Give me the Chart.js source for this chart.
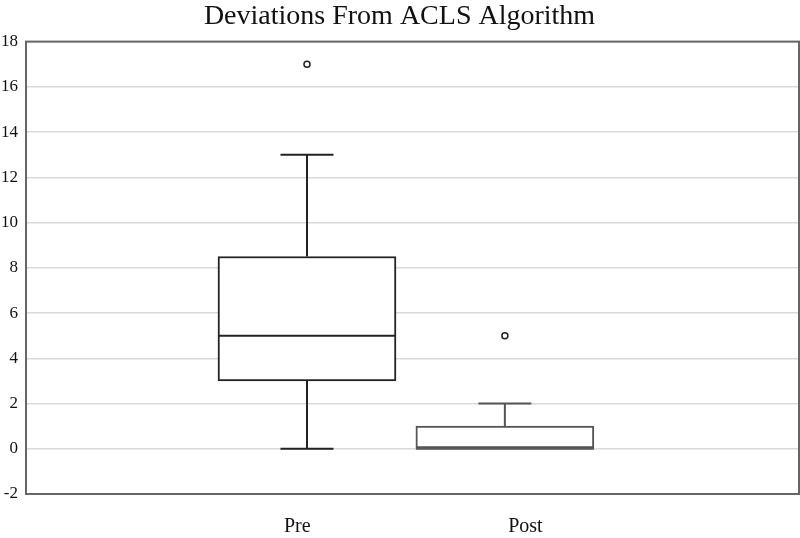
<!DOCTYPE html>
<html><head><meta charset="utf-8">
<script src="https://cdn.jsdelivr.net/npm/chart.js@4.4.1/dist/chart.umd.min.js"></script>
<style>html,body{margin:0;padding:0;background:#fff}#wrap{width:800px;height:538px}</style>
</head><body><div id="wrap"><canvas id="c" width="800" height="538"></canvas></div>
<script>
const categories = ['Pre', 'Post'];
const whiskerLow = [0, 0];
const q1 = [3, 0];
const median = [5, 0];
const q3 = [8.5, 1];
const whiskerHigh = [13, 2];
const outliers = [[17], [5]];
const yTicks = [-2, 0, 2, 4, 6, 8, 10, 12, 14, 16, 18];

// layout / style (not data)
const boxCenter = [36.35, 61.95];
const labelCenter = [35.1, 64.6];
const boxColor = ['#222222', '#555555'];
const boxPx = 178, capPx = 53;

const SERIF = '"Liberation Serif", "Times New Roman", serif';

const boxPlugin = {
  id: 'boxExtras',
  afterDatasetsDraw(chart) {
    const {ctx, scales: {x, y}, chartArea: a} = chart;
    ctx.save();
    ctx.lineWidth = 2;
    categories.forEach((c, i) => {
      ctx.strokeStyle = boxColor[i];
      const cx = x.getPixelForValue(boxCenter[i]);
      const seg = (x1, y1, x2, y2) => { ctx.beginPath(); ctx.moveTo(x1, y1); ctx.lineTo(x2, y2); ctx.stroke(); };
      seg(cx - boxPx / 2, y.getPixelForValue(median[i]), cx + boxPx / 2, y.getPixelForValue(median[i]));
      if (whiskerHigh[i] > q3[i]) {
        seg(cx, y.getPixelForValue(q3[i]), cx, y.getPixelForValue(whiskerHigh[i]));
        seg(cx - capPx / 2, y.getPixelForValue(whiskerHigh[i]), cx + capPx / 2, y.getPixelForValue(whiskerHigh[i]));
      }
      if (whiskerLow[i] < q1[i]) {
        seg(cx, y.getPixelForValue(q1[i]), cx, y.getPixelForValue(whiskerLow[i]));
        seg(cx - capPx / 2, y.getPixelForValue(whiskerLow[i]), cx + capPx / 2, y.getPixelForValue(whiskerLow[i]));
      }
    });
    ctx.strokeStyle = '#666';
    ctx.lineWidth = 2;
    ctx.strokeRect(a.left, a.top, a.right - a.left, a.bottom - a.top);
    ctx.restore();
  }
};

const outlierPts = [];
outliers.forEach((arr, i) => arr.forEach(v => outlierPts.push({x: boxCenter[i], y: v})));

new Chart(document.getElementById('c'), {
  type: 'bar',
  data: {
    datasets: [{
      type: 'bar',
      data: categories.map((c, i) => ({x: boxCenter[i], y: [q1[i], q3[i]]})),
      backgroundColor: '#ffffff',
      borderColor: boxColor,
      borderWidth: 2,
      borderSkipped: false,
      barThickness: boxPx
    }, {
      type: 'scatter',
      data: outlierPts,
      pointRadius: 3,
      pointBorderWidth: 1.5,
      pointBackgroundColor: '#fff',
      pointBorderColor: '#222'
    }]
  },
  options: {
    responsive: false,
    animation: false,
    devicePixelRatio: 1,
    layout: {autoPadding: false, padding: {left: 0, right: 1, top: 0, bottom: 0}},
    plugins: {
      legend: {display: false},
      tooltip: {enabled: false},
      title: {
        display: true,
        text: 'Deviations From ACLS Algorithm',
        color: '#111',
        font: {family: SERIF, size: 28, weight: 'normal'},
        padding: {top: 0, bottom: 8}
      }
    },
    scales: {
      x: {
        type: 'linear',
        offset: false,
        min: 0, max: 100,
        grid: {display: false, drawTicks: false},
        border: {display: false},
        afterBuildTicks: s => { s.ticks = labelCenter.map(v => ({value: v})); },
        afterFit: s => { s.height = 44; s.paddingLeft = 0; s.paddingRight = 0; },
        ticks: {
          autoSkip: false,
          maxRotation: 0,
          padding: 21,
          color: '#111',
          font: {family: SERIF, size: 20},
          callback: (v, i) => categories[i]
        }
      },
      y: {
        min: -2, max: 18,
        afterBuildTicks: s => { s.ticks = yTicks.map(v => ({value: v})); },
        afterFit: s => { s.width = 26; },
        grid: {color: '#d9d9d9', lineWidth: 1.5, drawTicks: false},
        border: {display: false},
        ticks: {
          padding: 8,
          color: '#111',
          font: {family: SERIF, size: 17}
        }
      }
    }
  },
  plugins: [boxPlugin]
});
</script>
</body></html>
